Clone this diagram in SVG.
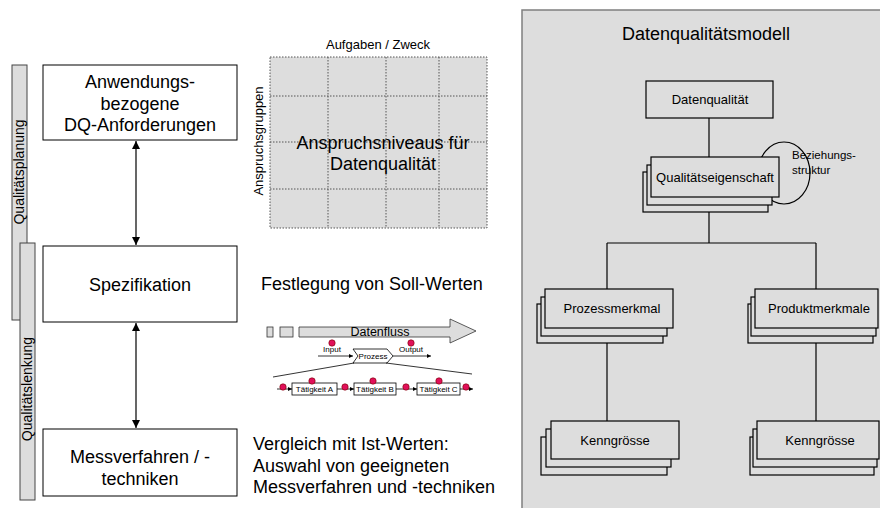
<svg xmlns="http://www.w3.org/2000/svg" width="880" height="508" viewBox="0 0 880 508">
<style>
text{font-family:"Liberation Sans",Arial,sans-serif;fill:#000}
.big{font-size:18px}
.mid{font-size:13px}
.sm{font-size:8px}
.box{fill:#fff;stroke:#000;stroke-width:1}
.bar{fill:#dddddd;stroke:#444;stroke-width:1}
.gbox{fill:#dddddd;stroke:#000;stroke-width:1.2}
.line{stroke:#000;stroke-width:1.2;fill:none}
.dot{fill:#e0105a;stroke:#700;stroke-width:0.6}
.grid{fill:none;stroke:#555;stroke-width:1;stroke-dasharray:1.5,1.5}
.thin{stroke:#000;stroke-width:0.8;fill:none}
.pbox{fill:#fff;stroke:#000;stroke-width:0.8}
.c{text-anchor:middle}
</style>
<defs>
<marker id="ah" viewBox="0 0 10 10" refX="10" refY="5" markerWidth="8" markerHeight="8" markerUnits="userSpaceOnUse" orient="auto-start-reverse">
<path d="M0,0 L10,5 L0,10 z" fill="#000"/>
</marker>
<marker id="sah" viewBox="0 0 10 10" refX="10" refY="5" markerWidth="4" markerHeight="4" markerUnits="userSpaceOnUse" orient="auto">
<path d="M0,0 L10,5 L0,10 z" fill="#000"/>
</marker>
</defs>

<!-- right panel background -->
<rect id="panel" x="522" y="10" width="370" height="510" fill="#dddddd" stroke="#7f7f7f" stroke-width="1.5"/>

<!-- left phase bars -->
<g id="bar-planung">
<rect class="bar" x="12" y="65" width="15" height="255"/>
<text class="mid" style="font-size:14px" text-anchor="middle" transform="translate(24,172) rotate(-90)">Qualitätsplanung</text>
</g>
<g id="bar-lenkung">
<rect class="bar" x="20" y="243" width="15" height="257"/>
<text class="mid" style="font-size:14px" text-anchor="middle" transform="translate(32,389) rotate(-90)">Qualitätslenkung</text>
</g>

<!-- left boxes -->
<g id="node-anforderungen">
<rect class="box" x="43" y="65" width="194" height="75"/>
<text class="big c" x="140" y="88">Anwendungs-</text>
<text class="big c" x="140" y="110">bezogene</text>
<text class="big c" x="140" y="131">DQ-Anforderungen</text>
</g>
<g id="node-spezifikation">
<rect class="box" x="43" y="246" width="194" height="76"/>
<text class="big c" x="140" y="291">Spezifikation</text>
</g>
<g id="node-messverfahren">
<rect class="box" x="43" y="429" width="194" height="67"/>
<text class="big c" x="140" y="463">Messverfahren / -</text>
<text class="big c" x="140" y="485">techniken</text>
</g>

<!-- grid -->
<g id="node-anspruchsniveaus">
<rect x="270" y="57" width="217" height="171" fill="#dddddd"/>
<rect class="grid" x="270" y="57" width="217" height="171"/>
<line class="grid" x1="328" y1="57" x2="328" y2="228"/>
<line class="grid" x1="386" y1="57" x2="386" y2="228"/>
<line class="grid" x1="439" y1="57" x2="439" y2="228"/>
<line class="grid" x1="270" y1="96" x2="487" y2="96"/>
<line class="grid" x1="270" y1="142" x2="487" y2="142"/>
<line class="grid" x1="270" y1="189" x2="487" y2="189"/>
<text class="mid c" x="378" y="49">Aufgaben / Zweck</text>
<text class="mid c" transform="translate(263,141) rotate(-90)">Anspruchsgruppen</text>
<text class="big c" x="383" y="149">Anspruchsniveaus für</text>
<text class="big c" x="383" y="170">Datenqualität</text>
</g>

<g id="label-soll">
<text class="big" x="261" y="290">Festlegung von Soll-Werten</text>
</g>

<!-- process illustration -->
<g id="node-datenfluss">
<rect x="267" y="327" width="6" height="10" fill="#dddddd" stroke="#333" stroke-width="0.8"/>
<rect x="280" y="327" width="13" height="10" fill="#dddddd" stroke="#333" stroke-width="0.8"/>
<polygon points="299,327 450,327 450,319 476,331 450,343 450,337 299,337" fill="#dddddd" stroke="#333" stroke-width="0.8"/>
<text class="c" style="font-size:12.5px" x="380" y="336">Datenfluss</text>
</g>
<g id="node-prozess">
<line class="thin" x1="318" y1="356" x2="353" y2="356" marker-end="url(#sah)"/>
<line class="thin" x1="393" y1="356" x2="431" y2="356" marker-end="url(#sah)"/>
<polygon points="353,349 387,349 393,356 387,363 353,363 358,356" class="pbox"/>
<text class="sm c" x="373" y="359">Prozess</text>
<circle class="dot" cx="332" cy="343" r="3.2"/>
<text class="sm c" x="332" y="352">Input</text>
<circle class="dot" cx="411" cy="343" r="3.2"/>
<text class="sm c" x="411" y="352">Output</text>
<line class="thin" x1="354" y1="363" x2="273" y2="377"/>
<line class="thin" x1="386" y1="363" x2="472" y2="374"/>
</g>
<g id="node-taetigkeiten">
<line class="thin" x1="277" y1="389" x2="292" y2="389" marker-end="url(#sah)"/>
<line class="thin" x1="337" y1="389" x2="354" y2="389" marker-end="url(#sah)"/>
<line class="thin" x1="396" y1="389" x2="417" y2="389" marker-end="url(#sah)"/>
<line class="thin" x1="460" y1="389" x2="473" y2="389" marker-end="url(#sah)"/>
<rect class="pbox" x="292" y="383" width="45" height="12"/>
<text class="sm c" x="314.5" y="392">Tätigkeit A</text>
<rect class="pbox" x="354" y="383" width="42" height="12"/>
<text class="sm c" x="375" y="392">Tätigkeit B</text>
<rect class="pbox" x="417" y="383" width="43" height="12"/>
<text class="sm c" x="438.5" y="392">Tätigkeit C</text>
<circle class="dot" cx="283" cy="387" r="3.2"/>
<circle class="dot" cx="312" cy="381" r="3.2"/>
<circle class="dot" cx="345" cy="387" r="3.2"/>
<circle class="dot" cx="373" cy="381" r="3.2"/>
<circle class="dot" cx="406" cy="387" r="3.2"/>
<circle class="dot" cx="439" cy="381" r="3.2"/>
<circle class="dot" cx="466" cy="387" r="3.2"/>
</g>

<g id="label-ist">
<text class="big" x="253" y="450">Vergleich mit Ist-Werten:</text>
<text class="big" x="253" y="472">Auswahl von geeigneten</text>
<text class="big" x="253" y="493">Messverfahren und -techniken</text>
</g>

<!-- right model -->
<g id="title-modell">
<text class="big c" x="706" y="40">Datenqualitätsmodell</text>
</g>

<g id="connectors">
<line class="line" x1="136" y1="141" x2="136" y2="245" marker-start="url(#ah)" marker-end="url(#ah)"/>
<line class="line" x1="136" y1="323" x2="136" y2="428" marker-start="url(#ah)" marker-end="url(#ah)"/>
<line class="line" x1="709" y1="118" x2="709" y2="157"/>
<line class="line" x1="709" y1="212" x2="709" y2="243"/>
<line class="line" x1="607" y1="243" x2="816" y2="243"/>
<line class="line" x1="607" y1="243" x2="607" y2="289"/>
<line class="line" x1="816" y1="243" x2="816" y2="289"/>
<line class="line" x1="607" y1="343" x2="607" y2="421"/>
<line class="line" x1="816" y1="343" x2="816" y2="421"/>
</g>

<g id="node-datenqualitaet">
<rect class="gbox" x="646" y="81" width="127" height="37"/>
<text class="mid c" x="710" y="104">Datenqualität</text>
</g>

<g id="node-beziehungsstruktur">
<ellipse cx="784" cy="173" rx="26" ry="31" fill="none" stroke="#000" stroke-width="1.2"/>
</g>

<g id="node-qualitaetseigenschaft">
<rect class="gbox" x="643" y="172" width="125" height="40"/>
<rect class="gbox" x="647" y="165" width="125" height="40"/>
<rect class="gbox" x="651" y="157" width="128" height="40"/>
<text class="mid c" x="715" y="182">Qualitätseigenschaft</text>
</g>
<g id="label-beziehung">
<text style="font-size:11.5px" x="792" y="159">Beziehungs-</text>
<text style="font-size:11.5px" x="792" y="174">struktur</text>
</g>

<g id="node-prozessmerkmal">
<rect class="gbox" x="537" y="304" width="126" height="39"/>
<rect class="gbox" x="541" y="297" width="126" height="39"/>
<rect class="gbox" x="545" y="289" width="128" height="39"/>
<text class="mid c" x="612" y="313">Prozessmerkmal</text>
</g>
<g id="node-produktmerkmale">
<rect class="gbox" x="748" y="304" width="125" height="39"/>
<rect class="gbox" x="751" y="297" width="125" height="39"/>
<rect class="gbox" x="755" y="289" width="123" height="39"/>
<text class="mid c" x="819" y="313">Produktmerkmale</text>
</g>
<g id="node-kenngroesse-1">
<rect class="gbox" x="541" y="437" width="126" height="38"/>
<rect class="gbox" x="546" y="429" width="125" height="38"/>
<rect class="gbox" x="551" y="421" width="128" height="38"/>
<text class="mid c" x="615" y="445">Kenngrösse</text>
</g>
<g id="node-kenngroesse-2">
<rect class="gbox" x="750" y="437" width="124" height="38"/>
<rect class="gbox" x="753" y="429" width="124" height="38"/>
<rect class="gbox" x="757" y="421" width="122" height="38"/>
<text class="mid c" x="820" y="445">Kenngrösse</text>
</g>
</svg>
